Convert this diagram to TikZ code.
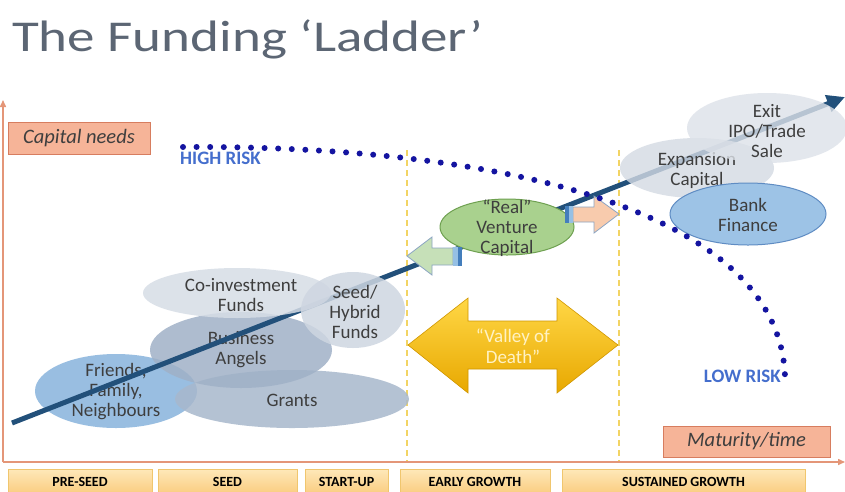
\documentclass[tikz,border=0pt]{standalone}
\usepackage{fontspec}
\setmainfont{Carlito}
\newfontfamily\titlefont[FakeStretch=1.25]{Carlito}
\usetikzlibrary{shapes.geometric,arrows.meta}

\definecolor{titlegray}{RGB}{92,102,116}
\definecolor{txtgray}{RGB}{62,62,62}
\definecolor{axisline}{RGB}{228,150,120}
\definecolor{axisfill}{RGB}{246,180,152}
\definecolor{axisdraw}{RGB}{215,125,95}
\definecolor{phasetop}{RGB}{254,232,185}
\definecolor{phasebot}{RGB}{250,203,125}
\definecolor{phaseline}{RGB}{240,198,110}
\definecolor{gapyellow}{RGB}{242,212,100}
\definecolor{riskblue}{RGB}{20,20,160}
\definecolor{risktext}{RGB}{68,110,205}
\definecolor{ladder}{RGB}{34,80,122}
\definecolor{ffnblue}{RGB}{143,184,222}
\definecolor{grantgray}{RGB}{168,184,204}
\definecolor{bagray}{RGB}{160,177,199}
\definecolor{coinvgray}{RGB}{214,221,230}
\definecolor{hybridgray}{RGB}{206,214,225}
\definecolor{expgray}{RGB}{212,218,227}
\definecolor{exitgray}{RGB}{221,226,233}
\definecolor{bankblue}{RGB}{157,195,230}
\definecolor{bankline}{RGB}{95,140,195}
\definecolor{vcgreen}{RGB}{169,209,142}
\definecolor{vcline}{RGB}{110,160,80}
\definecolor{backgreen}{RGB}{198,224,184}
\definecolor{fwdorange}{RGB}{248,203,173}
\definecolor{arrowline}{RGB}{140,165,195}
\definecolor{stripelight}{RGB}{150,192,228}
\definecolor{stripedark}{RGB}{68,126,188}
\definecolor{goldtop}{RGB}{255,215,70}
\definecolor{goldbot}{RGB}{232,168,0}
\definecolor{valleytext}{RGB}{255,242,196}

\begin{document}
\begin{tikzpicture}[x=1pt, y=-1pt, >={Triangle[length=18pt,width=17pt]},
    fund/.style={ellipse, inner sep=0pt},
    lbl/.style={align=center, text=txtgray, inner sep=0pt, font=\fontsize{19}{20}\selectfont},
    phasebox/.style={draw=phaseline, top color=phasetop, bottom color=phasebot, minimum height=26pt, inner sep=0pt, font=\bfseries\fontsize{14}{15}\selectfont},
    axisbox/.style={draw=axisdraw, fill=axisfill, minimum height=32pt, inner sep=0pt, text=txtgray, font=\itshape\fontsize{20.5}{22}\selectfont},
    axisarrow/.style={draw=axisline, line width=1.5pt, -{Triangle[length=7pt,width=6pt]}},
    gapline/.style={draw=gapyellow, line width=1.6pt, dash pattern=on 6pt off 4pt},
    riskdots/.style={draw=riskblue, line width=6pt, line cap=round, dash pattern=on 0pt off 13.6pt},
    risklbl/.style={text=risktext, inner sep=0pt, font=\bfseries\fontsize{19}{20}\selectfont},
    growth/.style={draw=ladder, line width=5pt, ->}]
    \path[use as bounding box, fill=white] (0,0) rectangle (845,491);

    % Title
    \node[anchor=base west, inner sep=0pt, text=titlegray, font=\titlefont\fontsize{44}{48}\selectfont] (title) at (12,51) {The Funding ‘Ladder’};

    % Stage borders
    \coordinate (gapAtop) at (407,150);
    \coordinate (gapAbot) at (407,461);
    \coordinate (gapBtop) at (619,150);
    \coordinate (gapBbot) at (619,461);
    \draw[gapline] (gapAtop) -- (gapAbot);
    \draw[gapline] (gapBtop) -- (gapBbot);

    % Axes
    \coordinate (origin) at (3,462);
    \coordinate (ytip) at (3,100);
    \coordinate (xtip) at (845,462);
    \draw[axisarrow] (origin) -- (ytip);
    \draw[axisarrow] (origin) -- (xtip);
    \node[axisbox, minimum width=142pt] (capital) at (79,138) {Capital needs};
    \node[axisbox, minimum width=167pt, minimum height=31pt] (maturity) at (746.5,441.5) {Maturity/time};

    % Early funding sources
    \node[fund, fill=ffnblue, fill opacity=0.9, minimum width=162pt, minimum height=74pt] (ffn) at (116,391) {};
    \node[lbl] (ffnT) at (116,392) {Friends,\\Family,\\Neighbours};
    \node[fund, fill=grantgray, fill opacity=0.85, minimum width=234pt, minimum height=58pt] (grants) at (292,399) {};
    \node[lbl] (grantsT) at (292,400) {Grants};
    \node[fund, fill=bagray, fill opacity=0.85, minimum width=182pt, minimum height=76pt] (angels) at (241,350) {};
    \node[lbl] (angelsT) at (241,350) {Business\\Angels};

    % Ladder
    \coordinate (ladderstart) at (12,423);
    \coordinate (laddertip) at (845,97);
    \draw[growth] (ladderstart) -- (laddertip);

    \node[fund, fill=coinvgray, fill opacity=0.85, minimum width=188pt, minimum height=50pt] (coinv) at (237,293) {};
    \node[lbl] (coinvT) at (241,295) {Co-investment\\Funds};
    \node[fund, fill=hybridgray, fill opacity=0.85, minimum width=104pt, minimum height=76pt] (hybrid) at (353,310) {};
    \node[lbl] (hybridT) at (355,312) {Seed/\\Hybrid\\Funds};

    % Later funding sources
    \node[fund, fill=expgray, fill opacity=0.8, minimum width=154pt, minimum height=60pt] (expansion) at (697,168) {};
    \node[lbl] (expansionT) at (697,170) {Expansion\\Capital};
    \node[fund, fill=exitgray, fill opacity=0.8, minimum width=160pt, minimum height=70pt] (exit) at (767,128) {};
    \node[lbl] (exitT) at (767,131) {Exit\\IPO/Trade\\Sale};
    \node[fund, draw=bankline, line width=1pt, fill=bankblue, minimum width=156pt, minimum height=62pt] (bank) at (748,214) {};
    \node[lbl] (bankT) at (748,215) {Bank\\Finance};
    \node[fund, draw=vcline, line width=1pt, fill=vcgreen, minimum width=134pt, minimum height=56pt] (vc) at (507,227) {};
    \node[lbl] (vcT) at (507,228) {“Real”\\Venture\\Capital};

    % Back and forward arrows
    \draw[arrowline, fill=backgreen, line width=0.8pt] (407,256) -- (432,237) -- (432,248) -- (453,248) -- (453,265) -- (432,265) -- (432,275) -- cycle;
    \fill[stripelight] (453,247) rectangle (458,266);
    \fill[stripedark] (458,247) rectangle (462,266);
    \draw[arrowline, fill=fwdorange, line width=0.8pt] (573,207) -- (594,207) -- (594,196) -- (619,214) -- (594,233) -- (594,222) -- (573,222) -- cycle;
    \fill[stripedark] (565,206) rectangle (569,223);
    \fill[stripelight] (569,206) rectangle (573,223);

    % Valley of death
    \shade[top color=goldtop, bottom color=goldbot, draw=goldbot!90!black, line width=0.6pt]
        (408,345) -- (468,298) -- (468,321) -- (557,321) -- (557,298) -- (618,345)
        -- (557,393) -- (557,369) -- (468,369) -- (468,393) -- cycle;
    \node[lbl, text=valleytext, font=\fontsize{19}{21}\selectfont] (valley) at (513,346) {“Valley of\\Death”};

    % Risk curve
    \coordinate (highrisk) at (183,147);
    \coordinate (lowrisk) at (785,377);
    \draw[riskdots] (highrisk) .. controls (500,145) and (780,210) .. (lowrisk);
    \node[risklbl, anchor=west] (highT) at (180,158) {HIGH RISK};
    \node[risklbl, anchor=east] (lowT) at (781,376) {LOW RISK};

    % Stages
    \node[phasebox, minimum width=144pt] (preseed) at (80,482) {PRE-SEED};
    \node[phasebox, minimum width=139pt] (seed) at (227.5,482) {SEED};
    \node[phasebox, minimum width=83pt] (startup) at (346.5,482) {START-UP};
    \node[phasebox, minimum width=150pt] (early) at (475,482) {EARLY GROWTH};
    \node[phasebox, minimum width=243pt] (sustained) at (683.5,482) {SUSTAINED GROWTH};
\end{tikzpicture}
\end{document}
